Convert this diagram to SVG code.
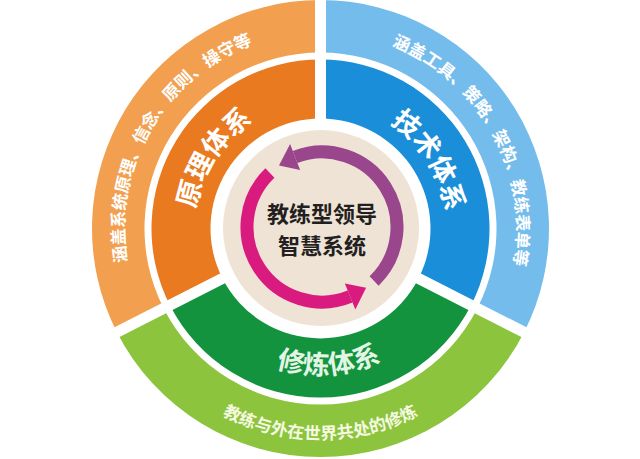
<svg xmlns="http://www.w3.org/2000/svg" width="640" height="459" viewBox="0 0 640 459">
<style>
.t{font-family:"Noto Sans CJK SC","Noto Sans",sans-serif;font-weight:bold;}
.o{font-size:17px;fill:#ffffff;}
.i{font-size:27px;fill:#ffffff;}
.sep{stroke:#ffffff;stroke-width:11;fill:none;}
.arc{fill:none;stroke-width:13;}
</style>
<defs>
<path id="pOrOut" d="M150.76,326.5 A196,196 0 0 1 320.5,32.5"/>
<path id="pBlOut" d="M323.92,32.53 A196,196 0 0 1 488.5,329.44"/>
<path id="pGrOut" d="M137.77,334 A211,211 0 0 0 503.23,334"/>
<path id="pOrIn" d="M207.83,284.92 A126,126 0 0 1 327.97,102.73"/>
<path id="pBlIn" d="M316.1,102.6 A126,126 0 0 1 431.75,287.66"/>
<path id="pGrIn" d="M198.75,309.08 A146,146 0 0 0 451.16,293.65"/>
</defs>
<rect width="640" height="459" fill="#ffffff"/>
<g id="principle">
<path d="M116.91,332.24 A228.5,228.5 0 0 1 320.5,0 L320.5,52.5 A176,176 0 0 0 163.68,308.4 Z" fill="#F2A04F"/>
<path d="M169.92,305.23 A169,169 0 0 1 320.5,59.5 L320.5,118.5 A110,110 0 0 0 222.49,278.44 Z" fill="#E97A1F"/>
</g>
<g id="technique">
<path d="M320.5,0 A228.5,228.5 0 0 1 524.09,332.24 L477.32,308.4 A176,176 0 0 0 320.5,52.5 Z" fill="#74BCEC"/>
<path d="M320.5,59.5 A169,169 0 0 1 471.08,305.23 L418.51,278.44 A110,110 0 0 0 320.5,118.5 Z" fill="#1A8ED8"/>
</g>
<g id="cultivation">
<path d="M524.09,332.24 A228.5,228.5 0 0 1 116.91,332.24 L163.68,308.4 A176,176 0 0 0 477.32,308.4 Z" fill="#8CC43E"/>
<path d="M471.08,305.23 A169,169 0 0 1 169.92,305.23 L222.49,278.44 A110,110 0 0 0 418.51,278.44 Z" fill="#13933E"/>
</g>
<g id="separators">
<line class="sep" x1="320.5" y1="128.5" x2="320.5" y2="-12"/>
<line class="sep" x1="409.6" y1="273.9" x2="534.34" y2="337.46"/>
<line class="sep" x1="231.4" y1="273.9" x2="106.66" y2="337.46"/>
</g>
<g id="center">
<circle cx="321" cy="228" r="98" fill="#EFE3D5"/>
<text class="t" x="322" y="222" font-size="22" fill="#231F20" text-anchor="middle">教练型领导</text>
<text class="t" x="322" y="254" font-size="22" fill="#231F20" text-anchor="middle">智慧系统</text>
</g>
<g id="connectors">
<path class="arc" d="M374.1,280.95 A75,75 0 0 0 295.12,156.98" stroke="#9A468C"/>
<polygon points="300.14,170.05 290.1,143.91 278.98,165.56" fill="#9A468C"/>
<path class="arc" d="M269.9,173.05 A75,75 0 0 0 350.1,296.54" stroke="#D91A7E"/>
<polygon points="344.85,283.56 355.34,309.52 366.09,287.68" fill="#D91A7E"/>
</g>
<g id="labels">
<text class="t o"><textPath href="#pOrOut" startOffset="50%" text-anchor="middle">涵盖系统原理、信念、原则、操守等</textPath></text>
<text class="t o"><textPath href="#pBlOut" startOffset="50%" text-anchor="middle">涵盖工具、策略、架构、教练表单等</textPath></text>
<text class="t o" style="fill:#F5FAE0"><textPath href="#pGrOut" startOffset="50%" text-anchor="middle">教练与外在世界共处的修炼</textPath></text>
<text class="t i"><textPath href="#pOrIn" startOffset="50%" text-anchor="middle">原理体系</textPath></text>
<text class="t i"><textPath href="#pBlIn" startOffset="50%" text-anchor="middle">技术体系</textPath></text>
<text class="t i" style="fill:#E3F6E6"><textPath href="#pGrIn" startOffset="50%" text-anchor="middle">修炼体系</textPath></text>
</g>
</svg>
